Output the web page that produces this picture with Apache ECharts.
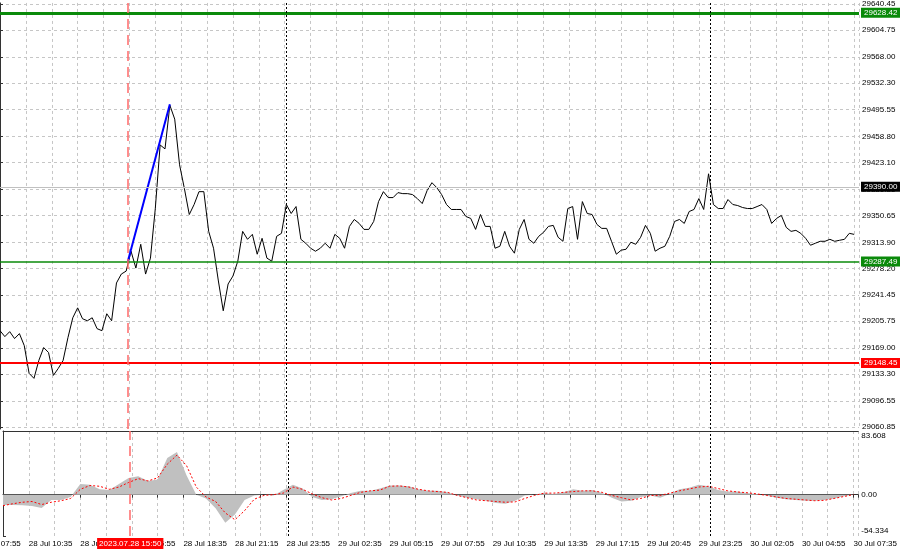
<!DOCTYPE html>
<html><head><meta charset="utf-8">
<script src="https://cdn.jsdelivr.net/npm/echarts@6/dist/echarts.min.js"></script>
<style>html,body{margin:0;padding:0;background:#fff}#c{width:900px;height:553px}</style>
</head><body><div id="c"></div>
<script>
// ---- data (M5 bars; x unit = bar index) ----
const STEP = 3; // bars between price samples
const closes = [
29192.8,29184.7,29191.5,29182.0,29188.8,29172.4,29134.3,29127.5,29152.0,29169.7,
29162.9,29131.6,29141.1,29152.0,29183.3,29210.5,29224.1,29209.2,29206.4,29210.5,
29195.6,29192.8,29216.0,29206.4,29258.2,29270.4,29274.5,29301.7,29278.6,29311.2,
29270.4,29292.2,29360.2,29447.3,29441.9,29501.7,29482.7,29420.1,29387.4,29352.0,
29365.7,29383.3,29383.3,29328.9,29305.8,29260.9,29220.1,29256.8,29267.7,29288.1,
29328.9,29318.0,29324.8,29297.6,29319.4,29292.2,29288.1,29322.1,29326.2,29365.7,
29353.4,29362.9,29318.0,29312.6,29305.8,29301.7,29305.8,29312.6,29305.8,29324.8,
29319.4,29305.8,29335.7,29345.2,29339.8,29331.6,29331.6,29342.5,29369.7,29383.3,
29375.2,29375.2,29382.0,29380.6,29380.6,29379.3,29373.8,29367.0,29384.7,29395.6,
29388.8,29379.3,29365.7,29358.9,29358.9,29358.9,29349.3,29346.6,29331.6,29352.0,
29335.7,29335.7,29305.8,29308.5,29328.9,29308.5,29299.0,29331.6,29345.2,29318.0,
29312.6,29322.1,29327.6,29335.7,29337.1,29320.8,29315.3,29360.2,29362.9,29318.0,
29369.7,29353.4,29352.0,29338.4,29333.0,29333.0,29315.3,29297.6,29303.1,29304.4,
29314.0,29311.2,29320.8,29337.1,29326.2,29301.7,29305.8,29308.5,29322.1,29342.5,
29345.2,29339.8,29356.1,29358.9,29373.8,29358.9,29407.8,29365.7,29360.2,29360.2,
29372.5,29365.7,29364.3,29361.6,29360.2,29360.2,29362.9,29365.7,29358.9,29339.8,
29346.6,29350.7,29334.4,29328.9,29330.3,29326.2,29319.4,29309.9,29312.6,29315.3,
29315.3,29318.0,29315.3,29316.7,29318.0,29326.2,29324.8
];
const IND_STEP = 6; // bars between indicator samples
const osma = [
-13.6,-13.6,-14,-15,-17.6,-7,-7,-3,14,13,7,6,14,22,24,18,20,48,56,25,
0,-5,-18,-37,-26,-7,-1,0,-1,6,13,8,-3,-7,-6,-2,2,5,5,8,
12,12,11,7,5,5,3,-1,-4,-6,-8,-11,-12,-8,-1,0,2,1,3,7,
5,6,2,-4,-9,-8,-3,-1,-4,1,7,9,13,11,6,4,4,2,1,-1,
-4,-6,-7,-8,-8,-7,-5,-2,0
];
const signal = [
-14.5,-12,-10,-9,-13,-10,-8,-5,7,12,11,7,10,16,21,18,22,40,52,38,
10,-3,-9,-24,-33,-21,-6,-1,0,2,10,7,1,-4,-7,-5,-1,3,5,6,
11,11.5,10,7,5,4,3,-1,-4,-7,-8,-9,-10,-9.5,-5,-1,2,2,3,4,
5,5,3,-1,-4,-7,-5,-1,-1,2,5,7.5,10,11,8,5,3.5,2.5,1,-1,
-3,-5,-6,-7,-8,-7.5,-5,-2.5,0
];
const timeLabels = ['28 Jul 10:35','28 Jul 13:15','28 Jul 15:55','28 Jul 18:35','28 Jul 21:15',
  '28 Jul 23:55','29 Jul 02:35','29 Jul 05:15','29 Jul 07:55','29 Jul 10:35','29 Jul 13:35',
  '29 Jul 17:15','29 Jul 20:45','29 Jul 23:25','30 Jul 02:05','30 Jul 04:55','30 Jul 07:35'];
const prevTimeLabel = '28 Jul 07:55';
const FIRST_LABEL_BAR = 16, LABEL_EVERY = 32, GRID_EVERY = 16, TOTAL_BARS = 531;
const priceTicks = [29640.45,29604.75,29568.00,29532.30,29495.55,29458.80,29423.10,29386.35,
  29350.65,29313.90,29278.20,29241.45,29205.75,29169.00,29133.30,29096.55,29060.85];
const PRICE_MIN = 29058.1, PRICE_MAX = 29641.9;
const levelTop = 29628.42, levelSupport = 29287.49, levelLow = 29148.45, levelMark = 29390.00;
const signalBar = 79, signalTime = '2023.07.28 15:50';
const trendLine = [[79, 29287.49], [105, 29503.0]];
const daySeparatorBars = [177, 439];
const IND_MIN = -54.334, IND_MAX = 83.608;
const indTicks = [IND_MIN, 0, IND_MAX];

// ---- chart ----
const FONT = '"Liberation Sans", Arial, sans-serif';
const chart = echarts.init(document.getElementById('c'), null, {renderer: 'canvas'});
const gridSplit = {show: true, lineStyle: {color: '#c6c6c6', type: [3, 3], width: 1}};
function xLabel(v) {
  const k = (v - FIRST_LABEL_BAR) / LABEL_EVERY;
  if (Number.isInteger(k) && k >= 0 && k < timeLabels.length) return timeLabels[k];
  return '';
}
function levelLine(val, color, width, bg) {
  return {yAxis: val, lineStyle: {color: color, width: width, type: 'solid'},
    label: {show: true, position: 'end', distance: 2, formatter: val.toFixed(2),
      backgroundColor: bg, color: '#fff', padding: [1, 3, 1, 3], fontSize: 8, fontFamily: FONT}};
}
const daySep = daySeparatorBars.map(b => ({xAxis: b, lineStyle: {color: '#000', type: [2, 2], width: 1}, label: {show: false}}));
const redVert = {xAxis: signalBar, lineStyle: {color: '#ff6a6a', type: [10, 6], width: 1.5}, label: {show: false}};

chart.setOption({
  animation: false,
  backgroundColor: '#fff',
  grid: [
    {left: 0, right: 41, top: 0, height: 429},
    {left: 0, right: 41, top: 431, height: 105}
  ],
  xAxis: [
    {type: 'value', gridIndex: 0, min: 0, max: TOTAL_BARS, interval: GRID_EVERY,
      axisLine: {show: false}, axisTick: {show: false}, axisLabel: {show: false}, splitLine: gridSplit},
    {type: 'value', gridIndex: 1, min: 0, max: TOTAL_BARS, interval: GRID_EVERY,
      axisLine: {show: true, lineStyle: {color: '#333'}},
      axisTick: {show: true, length: 3, lineStyle: {color: '#333'}},
      axisLabel: {show: true, formatter: xLabel, align: 'left', margin: 4, fontSize: 8, color: '#000', fontFamily: FONT, showMaxLabel: true, showMinLabel: true},
      splitLine: gridSplit},
    {type: 'value', gridIndex: 1, position: 'top', min: 0, max: TOTAL_BARS,
      axisLine: {show: true, lineStyle: {color: '#333'}}, axisTick: {show: false},
      axisLabel: {show: false}, splitLine: {show: false}}
  ],
  yAxis: [
    {type: 'value', gridIndex: 0, position: 'right', min: PRICE_MIN, max: PRICE_MAX,
      axisLine: {show: true, lineStyle: {color: '#333'}},
      axisTick: {show: true, length: 3, customValues: priceTicks, lineStyle: {color: '#333'}},
      axisLabel: {show: true, customValues: priceTicks, formatter: v => v.toFixed(2), margin: 3, fontSize: 8, color: '#000', fontFamily: FONT},
      splitLine: gridSplit},
    {type: 'value', gridIndex: 1, position: 'right', min: IND_MIN, max: IND_MAX,
      axisLine: {show: true, lineStyle: {color: '#333'}},
      axisTick: {show: true, length: 3, customValues: indTicks, lineStyle: {color: '#333'}},
      axisLabel: {show: true, customValues: indTicks, margin: 3, fontSize: 8, color: '#000', fontFamily: FONT,
        formatter: v => v === IND_MAX ? '{t|' + v.toFixed(3) + '}' : (v === IND_MIN ? '{b|' + v.toFixed(3) + '}' : '{m|0.00}'),
        rich: {t: {padding: [9, 0, 0, 0], fontSize: 8, fontFamily: FONT, color: '#000'},
               b: {padding: [0, 0, 10, 0], fontSize: 8, fontFamily: FONT, color: '#000'},
               m: {fontSize: 8, fontFamily: FONT, color: '#000'}}},
      splitLine: {show: false}}
  ],
  series: [
    {type: 'line', xAxisIndex: 0, yAxisIndex: 0, data: closes.map((v, i) => [i * STEP, v]),
      symbol: 'none', lineStyle: {color: '#000', width: 1}, z: 3,
      markLine: {silent: true, symbol: ['none', 'none'], animation: false,
        data: [
          levelLine(levelMark, '#c0c0c0', 1, '#000'),
          levelLine(levelTop, '#0a8a0a', 3, '#0a8a0a'),
          levelLine(levelSupport, '#0a8a0a', 1.5, '#0a8a0a'),
          levelLine(levelLow, '#ff0000', 2, '#ff0000'),
          redVert
        ].concat(daySep)}},
    {type: 'line', xAxisIndex: 0, yAxisIndex: 0, data: trendLine, symbol: 'none',
      lineStyle: {color: '#0000ff', width: 2}, z: 4},
    {type: 'line', xAxisIndex: 1, yAxisIndex: 1, data: osma.map((v, i) => [i * IND_STEP, v]),
      symbol: 'none', lineStyle: {width: 0}, areaStyle: {color: '#c0c0c0', opacity: 1, origin: 0},
      markLine: {silent: true, symbol: ['none', 'none'], animation: false,
        data: [
          {xAxis: signalBar, lineStyle: {color: '#ff6a6a', type: [10, 6], width: 1.5},
            label: {show: true, position: 'start', distance: 2, formatter: signalTime, color: '#fff',
              backgroundColor: '#ff0000', padding: [2, 2, 1, 2], fontSize: 8, fontFamily: FONT}}
        ].concat(daySep)}},
    {type: 'line', xAxisIndex: 1, yAxisIndex: 1, data: signal.map((v, i) => [i * IND_STEP, v]),
      symbol: 'none', lineStyle: {color: '#ff0000', width: 1, type: [2, 2]}, z: 4}
  ]
});
// partially visible previous time label, positioned by the axis scale
const px = chart.convertToPixel({xAxisIndex: 1}, FIRST_LABEL_BAR - LABEL_EVERY);
chart.setOption({graphic: [{type: 'text', x: px, y: 540,
  style: {text: prevTimeLabel, fontSize: 8, fontFamily: FONT, fill: '#000'}}]});
</script></body></html>
